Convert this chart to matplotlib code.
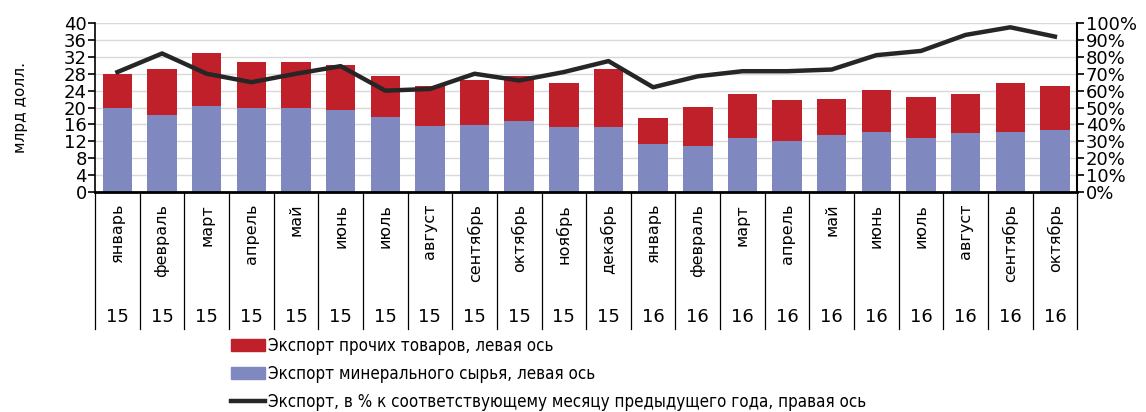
#coding: utf-8
# Экспорт: прочие товары + минеральное сырьё (столбики), % к прошлому году (линия)

import matplotlib
matplotlib.use('Agg')
import matplotlib.pyplot as plt
import matplotlib.transforms as mtransforms
from matplotlib.patches import Patch
from matplotlib.lines import Line2D

plt.rcParams['font.family'] = ['DejaVu Sans']

months = ['январь', 'февраль', 'март', 'апрель', 'май', 'июнь', 'июль', 'август',
          'сентябрь', 'октябрь', 'ноябрь', 'декабрь',
          'январь', 'февраль', 'март', 'апрель', 'май', 'июнь', 'июль', 'август',
          'сентябрь', 'октябрь']
years = ['15'] * 12 + ['16'] * 10

# минеральное сырьё, млрд долл.
mineral = [19.9, 18.3, 20.4, 19.9, 19.9, 19.3, 17.8, 15.6, 15.9, 16.7, 15.3, 15.3,
           11.3, 10.8, 12.9, 12.1, 13.4, 14.3, 12.9, 13.9, 14.3, 14.7]
# весь экспорт (верх столбика)
total = [28.0, 29.2, 32.8, 30.9, 30.7, 30.1, 27.4, 25.2, 26.6, 27.4, 25.8, 29.2,
         17.5, 20.1, 23.3, 21.8, 22.0, 24.2, 22.5, 23.3, 25.8, 25.0]
other = [t - m for t, m in zip(total, mineral)]
# в % к соответствующему месяцу предыдущего года
pct = [71, 82, 70, 65, 70, 74.5, 60, 61, 70, 66, 71, 77.5,
       62, 68.5, 71.5, 71.5, 72.5, 81, 83.5, 93, 97.5, 92]

red = '#C0202A'
blue = '#8088C0'

fig = plt.figure(figsize=(11.46, 4.12), dpi=100)
ax = fig.add_axes([0.083, 0.534, 0.857, 0.41])
x = list(range(len(months)))

ax.bar(x, mineral, width=0.66, color=blue, zorder=2)
ax.bar(x, other, bottom=mineral, width=0.66, color=red, zorder=2)

ax.set_xlim(-0.5, len(months) - 0.5)
ax.set_ylim(0, 40)
ax.set_yticks(range(0, 41, 4))
ax.grid(axis='y', color='#d9d9d9', lw=1, zorder=0)
ax.tick_params(axis='y', labelsize=13, length=5, width=1.2, pad=1)
ax.set_xticks([])
ax.set_ylabel('млрд долл.', fontsize=11, labelpad=26)
for s in ['top', 'right']:
    ax.spines[s].set_visible(False)
ax.spines['left'].set_linewidth(1.2)
ax.spines['bottom'].set_linewidth(2)

ax2 = ax.twinx()
ax2.plot(x, pct, color='#262626', lw=3.2, zorder=5)
ax2.set_ylim(0, 100)
ax2.set_yticks(range(0, 101, 10))
ax2.set_yticklabels(['%d%%' % v for v in range(0, 101, 10)])
ax2.tick_params(axis='y', labelsize=13, length=5, width=1.2, pad=1)
for s in ['top', 'left', 'bottom']:
    ax2.spines[s].set_visible(False)
ax2.spines['right'].set_linewidth(1.5)

# подписи категорий под осью
trans = mtransforms.blended_transform_factory(ax.transData, ax.transAxes)
for i in range(len(months) + 1):
    ax.plot([i - 0.5, i - 0.5], [0, -0.81], transform=trans, color='black',
            lw=0.9, clip_on=False)
for i, (m, yr) in enumerate(zip(months, years)):
    ax.text(i, -0.07, m, rotation=90, ha='center', va='top', fontsize=11.5,
            transform=trans)
    ax.text(i, -0.74, yr, ha='center', va='center', fontsize=13, transform=trans)

handles = [Patch(color=red), Patch(color=blue), Line2D([], [], color='#262626', lw=3.2)]
labels = ['Экспорт прочих товаров, левая ось',
          'Экспорт минерального сырья, левая ось',
          'Экспорт, в % к соответствующему месяцу предыдущего года, правая ось']
fig.legend(handles, labels, loc='upper left', bbox_to_anchor=(0.202, 0.182),
           frameon=False, prop={'size': 12.2, 'stretch': 'condensed'},
           handlelength=2.0, handleheight=0.7,
           handletextpad=0.15, labelspacing=0.58, borderaxespad=0, borderpad=0)

plt.savefig('out.png', dpi=100)
